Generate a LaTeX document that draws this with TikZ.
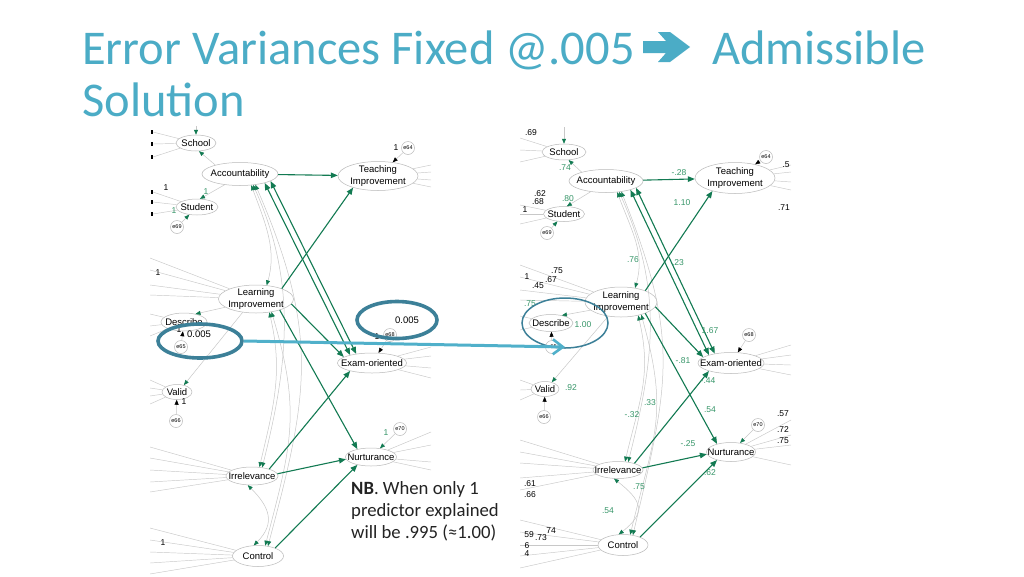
\documentclass[tikz,border=0pt]{standalone}
\usepackage{fontspec}
\setmainfont{Liberation Sans}
\newfontfamily\calib{Carlito}
\usetikzlibrary{shapes.geometric,arrows.meta,calc}
\definecolor{ttl}{RGB}{75,172,198}
\definecolor{hl}{RGB}{60,128,152}
\definecolor{hlarrow}{RGB}{80,176,202}
\definecolor{pg}{RGB}{18,122,82}
\definecolor{lg}{RGB}{55,150,105}
\definecolor{thin}{RGB}{200,200,200}
\definecolor{ell}{RGB}{185,185,185}
\definecolor{nbtext}{RGB}{35,35,35}
\tikzset{
 lat/.style={ellipse, draw=ell, line width=0.5pt, inner sep=0pt, fill=white},
 lattext/.style={font=\fontsize{9.5}{11.5}\selectfont, align=center, inner sep=0pt},
 err/.style={circle, draw=ell, line width=0.5pt, inner sep=0pt, minimum size=13pt, fill=white, font=\fontsize{5.5}{6}\selectfont},
 gp/.style={draw=pg, line width=1.1pt, -{Triangle[length=7pt,width=5.5pt]}},
 gpp/.style={draw=pg, line width=1.1pt, {Triangle[length=7pt,width=5.5pt]}-{Triangle[length=7pt,width=5.5pt]}},
 tg/.style={draw=thin, line width=0.5pt, -{Triangle[length=5pt,width=4pt,color=pg]}},
 tgg/.style={draw=thin, line width=0.5pt, {Triangle[length=5pt,width=4pt,color=pg]}-{Triangle[length=5pt,width=4pt,color=pg]}},
 tb/.style={draw=thin, line width=0.5pt, -{Triangle[length=5pt,width=4pt,color=black]}},
 fan/.style={draw=thin, line width=0.45pt},
 nl/.style={font=\fontsize{8.5}{9}\selectfont, inner sep=0pt},
 gl/.style={nl, text=lg},
 big/.style={font=\fontsize{9.5}{10}\selectfont, inner sep=0pt},
 hlell/.style={ellipse, draw=hl, inner sep=0pt},
 ttlfont/.style={anchor=base west, inner sep=0pt, text=ttl, font=\calib\fontsize{48.5}{52}\selectfont}
}
\newcommand\latnode[5]{\node[lat, minimum width=#3pt, minimum height=#4pt, label={[lattext]center:#5}] (#1) at (#2) {};}
\newcommand\fanlines[3]{\foreach \yy [count=\ii] in {#3} {\coordinate (#1f\ii) at (#2,\yy); \draw[fan] (#1) -- (#1f\ii);}}
\newcommand\tickmarks[2]{\foreach \yy in {#2} {\fill (#1-1.2,\yy-2.2) rectangle (#1+1.2,\yy+2.2);}}
\begin{document}
\begin{tikzpicture}[x=1pt,y=-1pt]
\fill[white] (0,0) rectangle (1024,576);
\useasboundingbox (0,0) rectangle (1024,576);

% ---------- Title ----------
\node[ttlfont] (t1) at (82,64) {Error Variances Fixed @.005};
\fill[ttl] (643,41) -- (666,41) -- (658,32) -- (670,32) -- (690,47) -- (670,62) -- (658,62) -- (666,53) -- (643,53) -- cycle;
\node[ttlfont] (t2) at (712,64) {Admissible};
\node[ttlfont] (t3) at (82,116) {Solution};

% ---------- LEFT diagram ----------
\begin{scope}
\clip (150,126) rectangle (431,576);
\latnode{LSch}{196,143}{40}{16}{School}
\latnode{LAcc}{240,174}{76}{23}{Accountability}
\latnode{LStu}{197,207}{42}{16}{Student}
\node[err] (Le69) at (177,227) {e69};
\latnode{LTea}{378,176}{80}{29}{Teaching\\Improvement}
\node[err] (Le64) at (408,148) {e64};
\latnode{LLea}{256,299}{75}{28}{Learning\\Improvement}
\latnode{LDes}{184,322}{46}{18}{Describe}
\node[err] (Le65) at (181,347) {e65};
\latnode{LVal}{177,392}{30}{15}{Valid}
\node[err] (Le66) at (176,421) {e66};
\latnode{LExa}{372,363}{69}{20}{Exam-oriented}
\node[err] (Le68) at (390,335) {e68};
\latnode{LNur}{371,457}{51}{18}{Nurturance}
\node[err] (Le70) at (400,429) {e70};
\latnode{LIrr}{252,476}{52}{18}{Irrelevance}
\latnode{LCon}{258,556}{51}{21}{Control}

% fans
\fanlines{LSch}{153}{132,144,157}
\fanlines{LStu}{153}{192,202,214}
\fanlines{LLea}{150}{258,270,285,295}
\fanlines{LDes}{150}{314,326,336}
\fanlines{LVal}{150}{380,388,396,404}
\fanlines{LIrr}{150}{447,458,470,482,492}
\fanlines{LCon}{150}{528,540,552,563,574}
\fanlines{LTea}{431}{165,172,180,187}
\fanlines{LExa}{431}{347,356,368,378}
\fanlines{LNur}{431}{432,445,462,470}
\tickmarks{152}{132,144,157,192,202,214}

% measurement paths
\coordinate (LSchTop) at (196,122);
\draw[tg] (LSchTop) -- (LSch.north);
\draw[tg] (LAcc.160) -- (LSch.-70);
\draw[tg] (LAcc.-145) -- (LStu.70);
\draw[tg] (LLea.195) -- (LDes.35);
\draw[tg] (LLea.225) -- (LVal.45);
\draw[tg] (Le69) -- (LStu);
\draw[tb] (Le64) -- (LTea);
\draw[tb] (Le65) -- (LDes);
\draw[tb] (Le66) -- (LVal);
\draw[tb] (Le68) -- (LExa);
\draw[tg] (Le70) -- (LNur);

% covariances
\draw[tgg] (LAcc.-45) .. controls +(15,40) and +(10,-35) .. (LLea.52);
\draw[tgg] (LAcc.-40) .. controls +(45,100) and +(25,-100) .. (LIrr.40);
\draw[tgg] (LAcc.-35) .. controls +(65,150) and +(40,-150) .. (LCon.45);
\draw[tgg] (LLea.-45) .. controls +(14,60) and +(14,-60) .. (LIrr.50);
\draw[tgg] (LLea.-40) .. controls +(30,100) and +(26,-100) .. (LCon.55);
\draw[tgg] (LIrr.-115) .. controls +(22,22) and +(22,-22) .. (LCon.112);

% structural paths
\draw[gp] (LAcc) -- (LTea);
\draw[gpp] (LAcc.-20) -- (LExa.160);
\draw[gpp] (LAcc.-13) -- (LExa.150);
\draw[gp] (LLea.22) -- (LTea.-155);
\draw[gp] (LLea.-8) -- (LExa.168);
\draw[gp] (LLea.-25) -- (LNur.150);
\draw[gp] (LIrr.22) -- (LExa.-160);
\draw[gp] (LIrr.5) -- (LNur.185);
\draw[gp] (LCon.25) -- (LNur.-150);

% labels
\node[nl] (la1) at (166,188) {1};
\node[gl] (la2) at (206,192) {1};
\node[gl] (la3) at (174,211) {1};
\node[nl] (la4) at (158,273) {1};
\node[nl] (la5) at (179,330) {1};
\node[big] (la6) at (199,334) {0.005};
\node[nl] (la7) at (184,402) {1};
\node[nl] (la8) at (377,337) {1};
\node[nl] (la10) at (396,148) {1};
\node[gl] (la11) at (386,433) {1};
\node[nl] (la12) at (163,543) {1};
\end{scope}
\node[big] (la9) at (407,320) {0.005};

% ---------- RIGHT diagram ----------
\begin{scope}
\clip (520,127) rectangle (791,576);
\latnode{RSch}{564,152}{44}{16}{School}
\latnode{RAcc}{606,181}{74}{23}{Accountability}
\latnode{RStu}{564,214}{41}{15}{Student}
\node[err] (Re69) at (547,233) {e69};
\latnode{RTea}{735,178}{80}{31}{Teaching\\Improvement}
\node[err] (Re64) at (766,157) {e64};
\latnode{RLea}{621,302}{72}{30}{Learning\\Improvement}
\latnode{RDes}{551,323}{44}{17}{Describe}
\node[err] (Re65) at (552,347) {e65};
\latnode{RVal}{545,389}{28}{15}{Valid}
\node[err] (Re66) at (544,417) {e66};
\latnode{RExa}{731,363}{66}{21}{Exam-oriented}
\node[err] (Re68) at (749,335) {e68};
\latnode{RNur}{731,452}{49}{19}{Nurturance}
\node[err] (Re70) at (758,425) {e70};
\latnode{RIrr}{618,470}{50}{17}{Irrelevance}
\latnode{RCon}{623,545}{50}{21}{Control}

% fans
\fanlines{RSch}{520}{138,150,162}
\fanlines{RStu}{520}{205,214,224}
\fanlines{RLea}{520}{265,277,290,300}
\fanlines{RDes}{520}{316,330}
\fanlines{RVal}{520}{380,390,400}
\fanlines{RIrr}{520}{440,452,463,478,490}
\fanlines{RCon}{520}{520,532,545,556,568}
\fanlines{RTea}{791}{165,172,182,190}
\fanlines{RExa}{791}{345,355,365,375}
\fanlines{RNur}{791}{420,435,445,465}

% measurement paths
\coordinate (RSchTop) at (564,124);
\draw[tg] (RSchTop) -- (RSch.north);
\draw[tg] (RAcc.160) -- (RSch.-60);
\draw[tg] (RAcc.-145) -- (RStu.70);
\draw[tg] (RLea.195) -- (RDes.35);
\draw[tg] (RLea.228) -- (RVal.45);
\draw[tg] (Re69) -- (RStu);
\draw[tb] (Re64) -- (RTea);
\draw[tb] (Re65) -- (RDes);
\draw[tb] (Re66) -- (RVal);
\draw[tb] (Re68) -- (RExa);
\draw[tg] (Re70) -- (RNur);

% covariances
\draw[tgg] (RAcc.-45) .. controls +(15,40) and +(10,-35) .. (RLea.45);
\draw[tgg] (RAcc.-40) .. controls +(45,100) and +(25,-100) .. (RIrr.38);
\draw[tgg] (RAcc.-35) .. controls +(60,150) and +(35,-150) .. (RCon.45);
\draw[tgg] (RLea.-38) .. controls +(14,60) and +(14,-60) .. (RIrr.50);
\draw[tgg] (RLea.-32) .. controls +(28,100) and +(24,-100) .. (RCon.55);
\draw[tgg] (RIrr.-115) .. controls +(28,22) and +(28,-22) .. (RCon.112);

% structural paths
\draw[gp] (RAcc) -- (RTea);
\draw[gpp] (RAcc.-20) -- (RExa.160);
\draw[gpp] (RAcc.-13) -- (RExa.150);
\draw[gp] (RLea.25) -- (RTea.-150);
\draw[gp] (RLea.-8) -- (RExa.168);
\draw[gp] (RLea.-25) -- (RNur.150);
\draw[gp] (RIrr.22) -- (RExa.-160);
\draw[gp] (RIrr.5) -- (RNur.185);
\draw[gp] (RCon.25) -- (RNur.-150);

% black labels
\node[nl] (rb1) at (531,133) {.69};
\node[nl] (rb2) at (540,194) {.62};
\node[nl] (rb3) at (538,202) {.68};
\node[nl] (rb4) at (525,210) {1};
\node[nl] (rb5) at (786,165) {.5};
\node[nl] (rb6) at (784,208) {.71};
\node[nl] (rb7) at (527,277) {1};
\node[nl] (rb8) at (557,271) {.75};
\node[nl] (rb9) at (551,280) {.67};
\node[nl] (rb10) at (538,286) {.45};
\node[nl] (rb11) at (783,414) {.57};
\node[nl] (rb12) at (783,430) {.72};
\node[nl] (rb13) at (783,441) {.75};
\node[nl] (rb14) at (530,484) {.61};
\node[nl] (rb15) at (530,495) {.66};
\node[nl] (rb16) at (529,535) {59};
\node[nl] (rb17) at (541,538) {.73};
\node[nl] (rb18) at (551,531) {74};
\node[nl] (rb19) at (527,546) {6};
\node[nl] (rb20) at (527,554) {4};
% green labels
\node[gl] (rg1) at (565,168) {.74};
\node[gl] (rg2) at (568,199) {.80};
\node[gl] (rg3) at (679,173) {-.28};
\node[gl] (rg4) at (682,203) {1.10};
\node[gl] (rg5) at (633,260) {.76};
\node[gl] (rg6) at (678,263) {.23};
\node[gl] (rg7) at (530,304) {.75};
\node[gl] (rg8) at (583,325) {1.00};
\node[gl] (rg9) at (571,388) {.92};
\node[gl] (rg10) at (710,331) {1.67};
\node[gl] (rg11) at (683,361) {-.81};
\node[gl] (rg12) at (708,381) {-.44};
\node[gl] (rg13) at (650,403) {.33};
\node[gl] (rg14) at (632,415) {-.32};
\node[gl] (rg15) at (710,410) {.54};
\node[gl] (rg16) at (688,444) {-.25};
\node[gl] (rg17) at (710,473) {.62};
\node[gl] (rg18) at (639,487) {.75};
\node[gl] (rg19) at (608,511) {.54};
\end{scope}

% ---------- NB text ----------
\node[anchor=north west, inner sep=0pt, align=left, text=nbtext, font=\calib\fontsize{18.7}{22}\selectfont] (nb) at (351,481) {\textbf{NB}. When only 1\\predictor explained\\will be .995 (≈1.00)};

% ---------- highlights ----------
\node[hlell, line width=3.6pt, minimum width=84pt, minimum height=34pt] (HL) at (200,341) {};
\node[hlell, line width=3.6pt, minimum width=80pt, minimum height=37pt] (HR) at (397,320) {};
\node[hlell, line width=1.5pt, minimum width=86pt, minimum height=50pt] (HT) at (565,323) {};
\coordinate (Htip) at (565,347);
\draw[hlarrow, line width=3pt, -{Straight Barb[length=10pt,width=15pt,line width=2.6pt]}] (HL.east) -- (Htip);
\end{tikzpicture}
\end{document}
